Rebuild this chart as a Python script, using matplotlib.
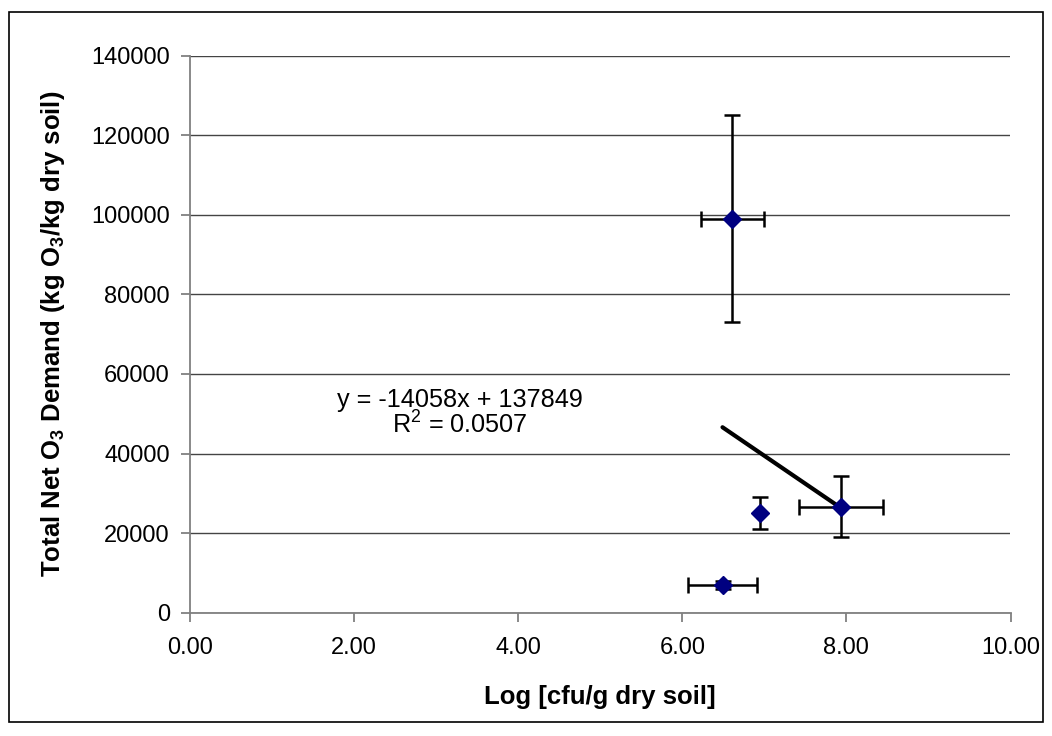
import matplotlib
matplotlib.use("Agg")
import matplotlib.pyplot as plt
import numpy as np
from matplotlib.patches import Rectangle

plt.rcParams['font.family'] = ['Liberation Sans', 'DejaVu Sans']
plt.rcParams['mathtext.fontset'] = 'custom'
plt.rcParams['mathtext.rm'] = 'Liberation Sans'
plt.rcParams['mathtext.bf'] = 'Liberation Sans:bold'

# Data
log_cfu = [6.61, 6.95, 7.93, 6.49]
log_cfu_err = [0.38, 0.0, 0.51, 0.42]
o3_demand = [99000, 25000, 26600, 7000]
o3_demand_err = [26000, 4000, 7650, 1000]
slope = -14058
intercept = 137849
r2 = 0.0507
xticks = [0, 2, 4, 6, 8, 10]
yticks = [0, 20000, 40000, 60000, 80000, 100000, 120000, 140000]

W, H = 1052, 736
fig = plt.figure(figsize=(W/100, H/100), dpi=100)
L, R, T, B = 190, 1010.5, 55.7, 612.7
ax = fig.add_axes([L/W, 1-B/H, (R-L)/W, (B-T)/H])

ax.errorbar(log_cfu, o3_demand, xerr=log_cfu_err, yerr=o3_demand_err,
            fmt='D', color='#000080', markersize=9, ecolor='black',
            elinewidth=1.8, capsize=5.5, capthick=1.8, zorder=3)

xl = np.array([min(log_cfu), max(log_cfu)])
ax.plot(xl, slope*xl + intercept, color='black', lw=3, zorder=2,
        solid_capstyle='round')

ax.text(3.29, 53440, f"y = {slope}x + {intercept}", ha='center', va='center', fontsize=18.2)
ax.text(3.29, 47160, f"R$^2$ = {r2}", ha='center', va='center', fontsize=18.2)

ax.set_xlim(0, 10)
ax.set_ylim(0, 140000)
ax.set_xticks(xticks)
ax.set_xticklabels([f"{v:.2f}" for v in xticks])
ax.set_yticks(yticks)
ax.set_yticklabels([str(v) for v in yticks])
ax.tick_params(labelsize=17, length=6.5, color='#808080', width=1.3)
ax.tick_params(axis='y', pad=8)
ax.tick_params(axis='x', pad=11)
ax.grid(axis='y', color='#444444', lw=1)
ax.set_axisbelow(True)
for s in ['top', 'right']:
    ax.spines[s].set_visible(False)
for s in ['left', 'bottom']:
    ax.spines[s].set_color('#808080')
    ax.spines[s].set_linewidth(1.3)

ax.set_xlabel("Log [cfu/g dry soil]", fontsize=18.5, fontweight='bold', va='center')
ax.xaxis.set_label_coords(0.5, (B-697)/(B-T))
ax.set_ylabel(r"Total Net O$_\mathbf{3}$ Demand (kg O$_\mathbf{3}$/kg dry soil)",
              fontsize=18.5, fontweight='bold', va='center')
ax.yaxis.set_label_coords((53-L)/(R-L), 0.5)

fig.patches.append(Rectangle((9/W, 1-722/H), (1043-9)/W, (722-12)/H,
                             transform=fig.transFigure, fill=False,
                             edgecolor='black', lw=1.2))

fig.savefig("out.png", dpi=100)
